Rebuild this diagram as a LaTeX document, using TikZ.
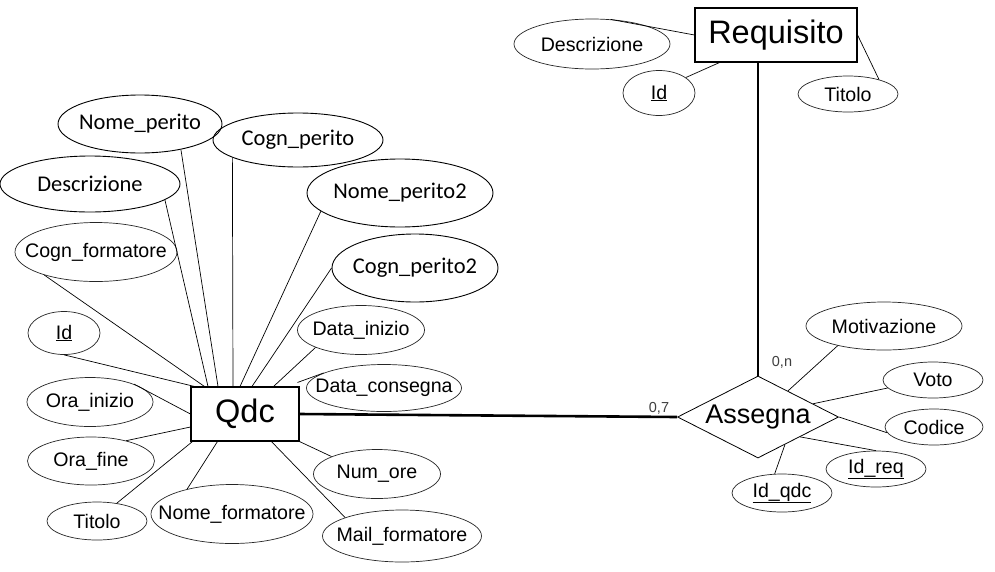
\documentclass[tikz,border=0pt]{standalone}
\usepackage{fontspec}
\newfontfamily\arialf{Liberation Sans}
\newfontfamily\calif{Carlito}
\usetikzlibrary{shapes.geometric,calc}
\begin{document}
\begin{tikzpicture}[x=1pt,y=-1pt,
  esz/.style 2 args={minimum width=#1pt, minimum height=#2pt},
  aattr/.style={ellipse, draw=black!85, line width=0.7pt, inner sep=0pt,
    label={[font=\arialf\fontsize{19.6}{22}\selectfont, inner sep=0pt]center:#1}},
  cattr/.style={ellipse, draw, line width=0.9pt, inner sep=0pt,
    label={[font=\calif\fontsize{22.5}{26}\selectfont, inner sep=0pt]center:#1}},
  ent/.style={rectangle, draw, line width=1.1pt, inner sep=0pt, font=\arialf\fontsize{32.5}{36}\selectfont},
  rel/.style={diamond, draw, line width=0.8pt, inner sep=0pt,
    label={[font=\arialf\fontsize{27}{30}\selectfont, inner sep=0pt]center:#1}},
  conn/.style={line width=0.7pt},
  relline/.style={line width=2.6pt},
  card/.style={font=\arialf\fontsize{14.5}{16}\selectfont, text=black!75, inner sep=0pt}
]
\fill[white] (0,0) rectangle (995,571);
\useasboundingbox (0,0) rectangle (995,571);

% Qdc and its attributes
\node[ent, minimum width=108pt, minimum height=54pt] (qdc) at (245,414) {Qdc};
\node[cattr={Nome\_perito}, esz={164}{58}] (nomep) at (140,124) {};
\node[cattr={Cogn\_perito}, esz={170}{54}] (cognp) at (298,140) {};
\node[cattr={Descrizione}, esz={180}{56}] (descq) at (90,184) {};
\node[cattr={Nome\_perito2}, esz={186}{68}] (nomep2) at (400,193) {};
\node[cattr={Cogn\_perito2}, esz={166}{68}] (cognp2) at (415,268) {};
\node[aattr={Cogn\_formatore}, esz={162}{59}] (cognf) at (96,252) {};
\node[aattr={\underline{Id}}, esz={72}{43}] (idq) at (64,333) {};
\node[aattr={Data\_inizio}, esz={127}{49}] (datai) at (361,330) {};
\node[aattr={Data\_consegna}, esz={155}{47}] (datac) at (384,388) {};
\node[aattr={Ora\_inizio}, esz={126}{49}] (orai) at (90,402) {};
\node[aattr={Ora\_fine}, esz={127}{48}] (oraf) at (91,461) {};
\node[aattr={Titolo}, esz={100}{38}] (titq) at (97,521) {};
\node[aattr={Nome\_formatore}, esz={162}{59}] (nomef) at (232,514) {};
\node[aattr={Num\_ore}, esz={127}{49}] (numore) at (377,474) {};
\node[aattr={Mail\_formatore}, esz={159}{52}] (mailf) at (402,536) {};

\draw[conn] (cognf.204) -- ([xshift=14pt]qdc.north west);
\draw[conn] (idq.south) -- ([xshift=4pt]qdc.north west);
\draw[conn] (orai.22) -- (qdc.west);
\draw[conn] (oraf.30) -- ([yshift=-13pt]qdc.west);
\draw[conn] (titq.42) -- ([xshift=2pt]qdc.south west);
\draw[conn] (nomef.151) -- ([xshift=27pt]qdc.south west);
\draw[conn] (mailf.162) -- ([xshift=81pt]qdc.south west);
\draw[conn] (numore.159) -- (qdc.south east);
\draw[conn] (datac.166) -- ([xshift=-2pt,yshift=4pt]qdc.north east);
\draw[conn] (datai.201) -- ([xshift=-26pt]qdc.north east);
\draw[conn] (cognp2.west) -- ([xshift=7pt]qdc.north);
\draw[conn] (nomep2.193) -- ([xshift=-5pt]qdc.north);
\draw[conn] (cognp.195) -- ([xshift=-12pt]qdc.north);
\draw[conn] (nomep.328) -- ([xshift=-27pt]qdc.north);
\draw[conn] (descq.-12) -- ([xshift=-37pt]qdc.north);

% Requisito and its attributes
\node[ent, minimum width=162pt, minimum height=54pt] (req) at (776,35) {Requisito};
\node[aattr={Descrizione}, esz={156}{50}] (descr) at (592,44) {};
\node[aattr={\underline{Id}}, esz={72}{45}] (idr) at (659,93) {};
\node[aattr={Titolo}, esz={100}{36}] (titr) at (848,94) {};
\draw[conn] (descr.53) -- (req.west);
\draw[conn] (idr.30) -- ([xshift=25pt]req.south west);
\draw[conn] (titr.25) -- (req.east);

% Assegna and its attributes
\node[rel={Assegna}, minimum width=161pt, minimum height=82pt] (ass) at (758,417) {};
\node[aattr={Motivazione}, esz={156}{48}] (motiv) at (884,326) {};
\node[aattr={Voto}, esz={100}{36}] (voto) at (933,380) {};
\node[aattr={Codice}, esz={98}{36}] (codice) at (934,427) {};
\node[aattr={\underline{Id\_req}}, esz={100}{36}] (idreq) at (876,469) {};
\node[aattr={\underline{Id\_qdc}}, esz={100}{38}] (idqdc) at (782,493) {};
\draw[conn] (motiv.203) -- ($(ass.north)!0.37!(ass.east)$);
\draw[conn] (voto.190) -- ($(ass.north)!0.68!(ass.east)$);
\draw[conn] (codice.187) -- (ass.east);
\draw[conn] (idreq.north) -- ($(ass.east)!0.48!(ass.south)$);
\draw[conn] (idqdc.111) -- ($(ass.east)!0.667!(ass.south)$);

% relationship lines
\draw[relline] (qdc.east) -- (ass.west);
\draw[relline] (req.south -| ass.north) -- (ass.north);
\node[card] (c07) at (659,408) {0,7};
\node[card] (c0n) at (782,362) {0,n};
\end{tikzpicture}
\end{document}
